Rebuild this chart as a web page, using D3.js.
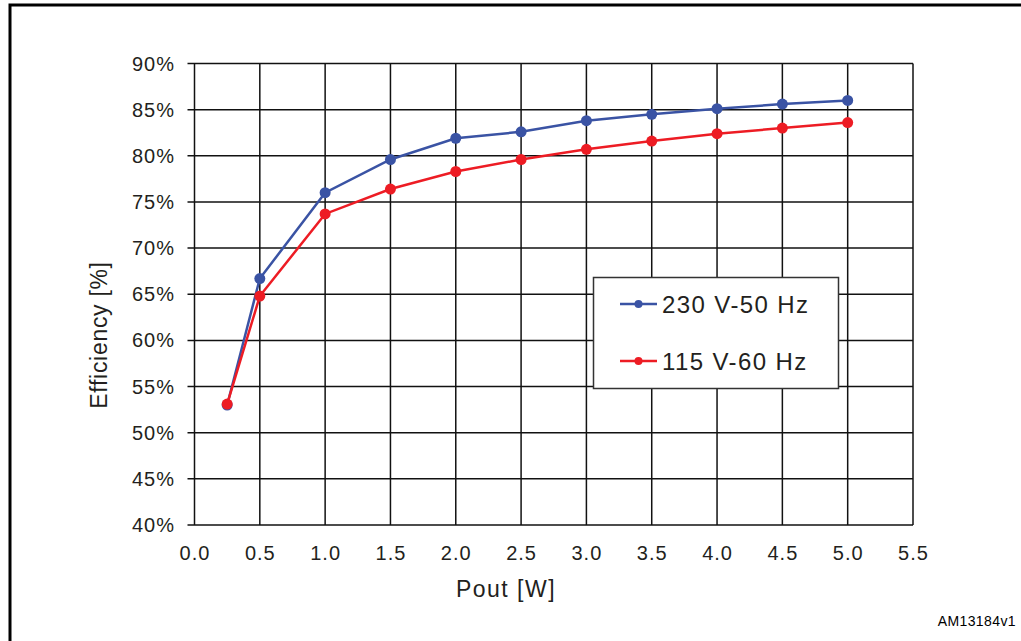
<!DOCTYPE html>
<html>
<head>
<meta charset="utf-8">
<script src="https://cdn.jsdelivr.net/npm/d3@7"></script>
<style>
  body { margin: 0; background: #fff; }
  svg text { font-family: "Liberation Sans", Arial, sans-serif; fill: #231f20; }
</style>
</head>
<body>
<div id="chart-area"></div>
<script>
// ** Data **
var pout = [0.25, 0.5, 1.0, 1.5, 2.0, 2.5, 3.0, 3.5, 4.0, 4.5, 5.0];
var eff230 = [53.0, 66.7, 76.0, 79.6, 81.9, 82.6, 83.8, 84.5, 85.1, 85.6, 86.0];
var eff115 = [53.1, 64.8, 73.7, 76.4, 78.3, 79.6, 80.7, 81.6, 82.4, 83.0, 83.6];
var seriesNames = ["230 V-50 Hz", "115 V-60 Hz"];
var xTicks = [0, 0.5, 1, 1.5, 2, 2.5, 3, 3.5, 4, 4.5, 5, 5.5];
var yTicks = [40, 45, 50, 55, 60, 65, 70, 75, 80, 85, 90];

var blue = "#3a53a4";
var red = "#ed1c24";

var svg = d3.select("#chart-area")
	.append("svg")
	.attr("width", 1021)
	.attr("height", 641);

// outer frame
svg.append("rect")
	.attr("x", 10)
	.attr("y", 5)
	.attr("width", 1100)
	.attr("height", 700)
	.attr("fill", "none")
	.attr("stroke", "#000")
	.attr("stroke-width", 3);

// plot area (names avoid clashing with window.top)
var plotLeft = 194.5, plotRight = 913, plotTop = 63.5, plotBottom = 525;

var x = d3.scaleLinear().domain([0, 5.5]).range([plotLeft, plotRight]);
var y = d3.scaleLinear().domain([40, 90]).range([plotBottom, plotTop]);

var g = svg.append("g");

// gridlines
g.selectAll(".vgrid")
	.data(xTicks)
	.enter().append("line")
	.attr("x1", function(d){ return x(d); })
	.attr("x2", function(d){ return x(d); })
	.attr("y1", plotTop)
	.attr("y2", plotBottom)
	.attr("stroke", "#111")
	.attr("stroke-width", 1.5);

g.selectAll(".hgrid")
	.data(yTicks)
	.enter().append("line")
	.attr("x1", plotLeft - 7)
	.attr("x2", plotRight)
	.attr("y1", function(d){ return y(d); })
	.attr("y2", function(d){ return y(d); })
	.attr("stroke", "#111")
	.attr("stroke-width", 1.5);

// tick labels
g.selectAll(".ylab")
	.data(yTicks)
	.enter().append("text")
	.attr("x", 175)
	.attr("y", function(d){ return y(d) + 7; })
	.attr("text-anchor", "end")
	.attr("font-size", 20)
	.attr("letter-spacing", 1)
	.text(function(d){ return d + "%"; });

g.selectAll(".xlab")
	.data(xTicks)
	.enter().append("text")
	.attr("x", function(d){ return x(d) + 0.5; })
	.attr("y", 560)
	.attr("text-anchor", "middle")
	.attr("font-size", 20)
	.attr("letter-spacing", 1)
	.text(function(d){ return d3.format(".1f")(d); });

// axis titles
svg.append("text")
	.attr("x", 506)
	.attr("y", 597)
	.attr("text-anchor", "middle")
	.attr("font-size", 23)
	.attr("letter-spacing", 1.5)
	.text("Pout [W]");

svg.append("text")
	.attr("transform", "translate(107, 335) rotate(-90)")
	.attr("text-anchor", "middle")
	.attr("font-size", 23)
	.attr("letter-spacing", 0.7)
	.text("Efficiency [%]");

svg.append("text")
	.attr("x", 1016)
	.attr("y", 626)
	.attr("text-anchor", "end")
	.attr("font-size", 14)
	.attr("letter-spacing", 0.4)
	.style("fill", "#000")
	.text("AM13184v1");

// series
var line = d3.line()
	.x(function(d){ return x(d[0]); })
	.y(function(d){ return y(d[1]); });

function drawSeries(values, color){
	var pts = d3.zip(pout, values);
	g.append("path")
		.datum(pts)
		.attr("d", line)
		.attr("fill", "none")
		.attr("stroke", color)
		.attr("stroke-width", 2.5);
	g.selectAll(null)
		.data(pts)
		.enter().append("circle")
		.attr("cx", function(d){ return x(d[0]); })
		.attr("cy", function(d){ return y(d[1]); })
		.attr("r", 5.5)
		.attr("fill", color);
}
drawSeries(eff230, blue);
drawSeries(eff115, red);

// legend
var legend = svg.append("g");
legend.append("rect")
	.attr("x", 593.5)
	.attr("y", 277.5)
	.attr("width", 245)
	.attr("height", 111)
	.attr("fill", "#fff")
	.attr("stroke", "#333")
	.attr("stroke-width", 1.5);

[blue, red].forEach(function(color, i){
	var ly = 304 + i * 57;
	legend.append("line")
		.attr("x1", 620).attr("x2", 657)
		.attr("y1", ly).attr("y2", ly)
		.attr("stroke", color)
		.attr("stroke-width", 2.5);
	legend.append("circle")
		.attr("cx", 638.5).attr("cy", ly)
		.attr("r", 4)
		.attr("fill", color);
	legend.append("text")
		.attr("x", 662)
		.attr("y", ly + 8.5)
		.attr("font-size", 24)
		.attr("letter-spacing", 1.4)
		.text(seriesNames[i]);
});
</script>
</body>
</html>
